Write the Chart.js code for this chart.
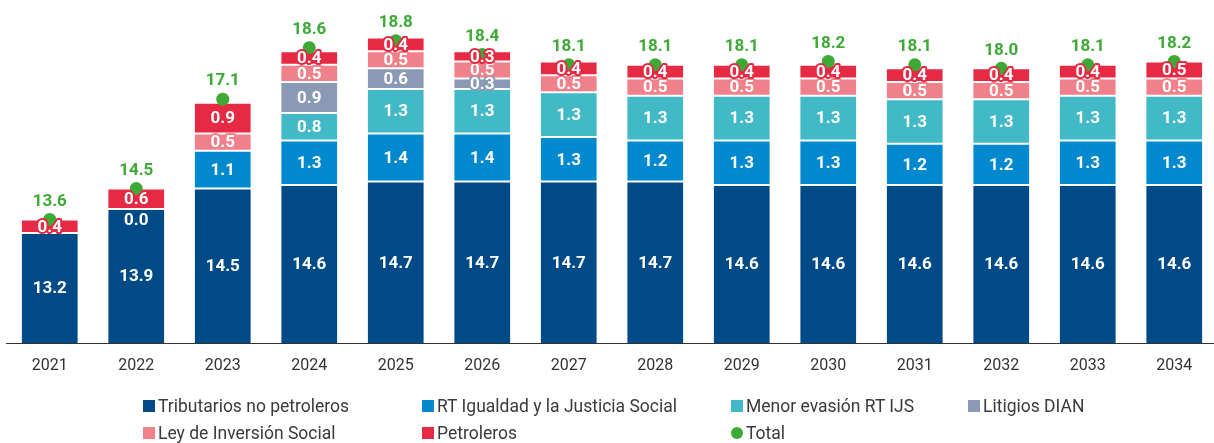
<!DOCTYPE html>
<html>
<head>
<meta charset="utf-8">
<script src="https://cdn.jsdelivr.net/npm/chart.js@4.4.1/dist/chart.umd.min.js"></script>
<style>
  html, body { margin: 0; padding: 0; background: #fff; overflow: hidden; }
  #wrap { position: relative; width: 1214px; height: 443px; overflow: hidden; }
  #chartBox { position: absolute; left: 0; top: 0; width: 1224px; height: 389px; }
  #legend { position: absolute; left: 0; top: 0; width: 1214px; height: 443px; color: #3a3a3a; pointer-events: none; font-family: Roboto, sans-serif; font-size: 17.5px; }
  .item { position: absolute; display: flex; align-items: center; height: 24px; white-space: nowrap; }
  .sw { width: 12px; height: 12px; margin-right: 3px; }
  .dot { border-radius: 50%; }
</style>
</head>
<body>
<div id="wrap">
  <div id="chartBox"><canvas id="myChart"></canvas></div>
  <div id="legend"></div>
</div>
<script>
// Data
const years = ['2021', '2022', '2023', '2024', '2025', '2026', '2027', '2028', '2029', '2030', '2031', '2032', '2033', '2034'];
const tributarios = [13.2, 13.9, 14.5, 14.6, 14.7, 14.7, 14.7, 14.7, 14.6, 14.6, 14.6, 14.6, 14.6, 14.6];
const rtIgualdad = [null, 0.0, 1.1, 1.3, 1.4, 1.4, 1.3, 1.2, 1.3, 1.3, 1.2, 1.2, 1.3, 1.3];
const menorEvasion = [null, null, null, 0.8, 1.3, 1.3, 1.3, 1.3, 1.3, 1.3, 1.3, 1.3, 1.3, 1.3];
const litigios = [null, null, null, 0.9, 0.6, 0.3, null, null, null, null, null, null, null, null];
const leyInversion = [null, null, 0.5, 0.5, 0.5, 0.5, 0.5, 0.5, 0.5, 0.5, 0.5, 0.5, 0.5, 0.5];
const petroleros = [0.4, 0.6, 0.9, 0.4, 0.4, 0.3, 0.4, 0.4, 0.4, 0.4, 0.4, 0.4, 0.4, 0.5];
const totals = [13.6, 14.5, 17.1, 18.6, 18.8, 18.4, 18.1, 18.1, 18.1, 18.2, 18.1, 18.0, 18.1, 18.2];

const GREEN = '#3daa35';

function barSet(label, data, color) {
    return {
        type: 'bar',
        label: label,
        data: data,
        backgroundColor: color,
        borderColor: 'rgba(255,255,255,0.3)',
        borderWidth: 1,
        borderSkipped: false,
        barPercentage: 0.667,
        categoryPercentage: 1,
        stack: 'main',
        order: 1,
        clip: 0,
    };
}

const datasets = [
    barSet('Tributarios no petroleros', tributarios, '#004b87'),
    barSet('RT Igualdad y la Justicia Social', rtIgualdad, '#0089cf'),
    barSet('Menor evasión RT IJS', menorEvasion, '#42b9c6'),
    barSet('Litigios DIAN', litigios, '#8a9ab5'),
    barSet('Ley de Inversión Social', leyInversion, '#f08089'),
    barSet('Petroleros', petroleros, '#e62a44'),
    {
        type: 'line',
        label: 'Total',
        data: totals,
        showLine: false,
        pointRadius: 6.5,
        pointBackgroundColor: GREEN,
        pointBorderWidth: 0,
        stack: 'total',
        order: 0,
        clip: false,
    },
];

// value labels inside segments and above the total points
const labelPlugin = {
    id: 'segLabels',
    afterDatasetsDraw(chart) {
        const ctx = chart.ctx;
        const area = chart.chartArea;
        ctx.save();
        ctx.textAlign = 'center';
        ctx.textBaseline = 'middle';
        ctx.lineJoin = 'round';
        ctx.font = 'bold 17px Roboto, sans-serif';
        chart.data.datasets.forEach((ds, i) => {
            const meta = chart.getDatasetMeta(i);
            meta.data.forEach((el, j) => {
                const v = ds.data[j];
                if (v === null || v === undefined) return;
                const txt = v.toFixed(1);
                if (ds.type === 'line') {
                    ctx.fillStyle = GREEN;
                    ctx.fillText(txt, el.x, el.y - 18);
                    return;
                }
                const top = Math.max(el.y, area.top);
                const bottom = Math.min(el.base, area.bottom);
                let y = (top + bottom) / 2 + 1;
                if (v === 0) {
                    y = top + 12;
                } else {
                    ctx.lineWidth = 4;
                    ctx.strokeStyle = ds.backgroundColor;
                    ctx.strokeText(txt, el.x, y);
                }
                ctx.fillStyle = '#fff';
                ctx.fillText(txt, el.x, y);
            });
        });
        ctx.restore();
    }
};

const ctx = document.getElementById('myChart').getContext('2d');
const myChart = new Chart(ctx, {
    data: { labels: years, datasets: datasets },
    options: {
        responsive: true,
        maintainAspectRatio: false,
        animation: false,
        layout: { padding: { top: 4, left: 3, right: 4, bottom: 0 } },
        plugins: {
            legend: { display: false },
            tooltip: { enabled: false },
        },
        scales: {
            x: {
                stacked: true,
                grid: { display: false, drawTicks: false },
                border: { display: true, color: '#333', width: 1 },
                ticks: {
                    color: '#333',
                    padding: 13.4,
                    font: { family: 'Roboto', size: 16 },
                },
            },
            y: {
                stacked: true,
                display: false,
                min: 10,
                max: 19.8,
            },
        },
    },
    plugins: [labelPlugin],
});

// legend laid out as in the original, four columns
const legendCols = [143, 422, 731, 968];
const legendRows = [394, 421];
const legendBox = document.getElementById('legend');
datasets.forEach((ds, k) => {
    const item = document.createElement('div');
    item.className = 'item';
    item.style.left = legendCols[k % 4] + 'px';
    item.style.top = legendRows[Math.floor(k / 4)] + 'px';
    const sw = document.createElement('span');
    sw.className = ds.type === 'line' ? 'sw dot' : 'sw';
    sw.style.background = ds.type === 'line' ? GREEN : ds.backgroundColor;
    const tx = document.createElement('span');
    tx.textContent = ds.label;
    item.appendChild(sw);
    item.appendChild(tx);
    legendBox.appendChild(item);
});
</script>
</body>
</html>
